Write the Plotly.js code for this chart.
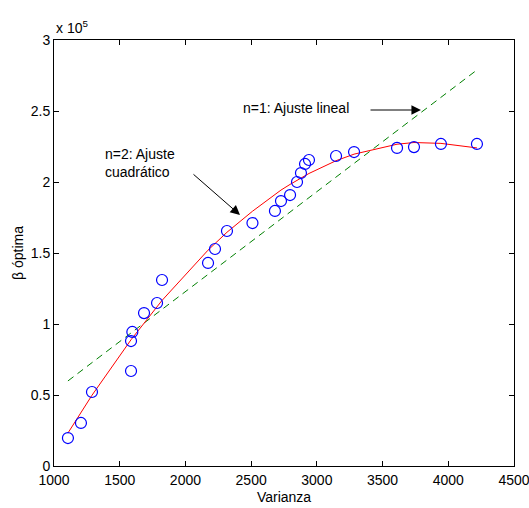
<!DOCTYPE html>
<html>
<head>
<meta charset="utf-8">
<script src="https://cdn.plot.ly/plotly-3.0.1.min.js"></script>
<style>html,body{margin:0;padding:0;background:#fff;}#chart{width:529px;height:508px;}</style>
</head>
<body>
<div id="chart"></div>
<script>
// Measured data (blue circles)
const varianza = [1106, 1205, 1289, 1586, 1596, 1586, 1685, 1784, 1822, 2172, 2225, 2316, 2510, 2681, 2727, 2796, 2849, 2879, 2910, 2940, 3146, 3283, 3610, 3739, 3944, 4218];
const betaOptima = [19700, 30300, 52100, 88000, 94400, 66900, 107700, 114800, 131000, 143000, 152800, 165500, 171100, 179600, 186600, 190800, 200000, 206300, 212700, 215500, 218300, 221100, 224000, 224600, 226800, 226800];

// n=2 quadratic fit (red line), read at the sorted data abscissas
const fitX = [1106, 1205, 1289, 1586, 1596, 1685, 1784, 1822, 2172, 2225, 2316, 2510, 2681, 2727, 2796, 2849, 2879, 2910, 2940, 3146, 3283, 3610, 3739, 3944, 4218];
const fitQuad = [23200, 37800, 49800, 88900, 90100, 100900, 112300, 116600, 152000, 156700, 164600, 179400, 191400, 194300, 198300, 201300, 202900, 204500, 206000, 215000, 219600, 226600, 227800, 227200, 224000];

// n=1 linear fit (green dashed line), end points
const linX = [1106, 4218];
const linY = [59900, 278900];

// Axis ticks
const xTicks = [1000, 1500, 2000, 2500, 3000, 3500, 4000, 4500];
const yTickVals = [0, 50000, 100000, 150000, 200000, 250000, 300000];
const yTickText = ['0', '0.5', '1', '1.5', '2', '2.5', '3'];

const FONT = '"Liberation Sans", Arial, sans-serif';
const FS = 14;

const traces = [
  {x: linX, y: linY, mode: 'lines', type: 'scatter',
   line: {color: '#008000', width: 1, dash: '7px,5px'}, hoverinfo: 'skip'},
  {x: fitX, y: fitQuad, mode: 'lines', type: 'scatter',
   line: {color: '#ff0000', width: 1}, hoverinfo: 'skip'},
  {x: varianza, y: betaOptima, mode: 'markers', type: 'scatter',
   marker: {symbol: 'circle-open', size: 11, color: '#0000ff', line: {width: 1.2, color: '#0000ff'}}}
];

const axisCommon = {
  showgrid: false, zeroline: false, showline: true, linecolor: '#000', linewidth: 1,
  mirror: 'ticks', ticks: 'inside', ticklen: 5, tickwidth: 1, tickcolor: '#000',
  ticklabeloverflow: 'allow',
  tickfont: {family: FONT, size: FS, color: '#000'}
};

const layout = {
  width: 529, height: 508,
  margin: {l: 54, r: 15, t: 40, b: 42},
  paper_bgcolor: '#fff', plot_bgcolor: '#fff',
  showlegend: false,
  font: {family: FONT, size: FS, color: '#000'},
  xaxis: Object.assign({}, axisCommon, {
    range: [1000, 4500], tickvals: xTicks, ticktext: xTicks.map(String),
    ticklabelstandoff: 1,
    title: {text: 'Varianza', font: {family: FONT, size: FS, color: '#000'}, standoff: 5}
  }),
  yaxis: Object.assign({}, axisCommon, {
    range: [0, 300000], tickvals: yTickVals, ticktext: yTickText,
    title: {text: 'β óptima', font: {family: FONT, size: FS, color: '#000'}, standoff: 3}
  }),
  annotations: [
    {xref: 'paper', yref: 'paper', x: 0, y: 1, xanchor: 'left', yanchor: 'bottom', yshift: 2,
     text: 'x 10<sup>5</sup>', showarrow: false, font: {family: FONT, size: FS, color: '#000'}},
    {xref: 'x', yref: 'y', x: 2420, y: 252100, xanchor: 'left', yanchor: 'middle',
     text: 'n=1: Ajuste lineal', showarrow: false, font: {family: FONT, size: FS, color: '#000'}},
    {xref: 'x', yref: 'y', x: 3792, y: 250700, axref: 'x', ayref: 'y', ax: 3397, ay: 250700,
     text: '', showarrow: true, arrowhead: 2, arrowsize: 1.9, arrowwidth: 1, arrowcolor: '#000', standoff: 0},
    {xref: 'x', yref: 'y', x: 1373, y: 213700, xanchor: 'left', yanchor: 'middle', align: 'left',
     text: 'n=2: Ajuste<br>cuadrático', showarrow: false, font: {family: FONT, size: FS, color: '#000'}},
    {xref: 'x', yref: 'y', x: 2415, y: 176800, axref: 'x', ayref: 'y', ax: 2050, ay: 206300,
     text: '', showarrow: true, arrowhead: 2, arrowsize: 1.9, arrowwidth: 1, arrowcolor: '#000', standoff: 0}
  ]
};

Plotly.newPlot('chart', traces, layout, {displayModeBar: false, staticPlot: true});
</script>
</body>
</html>
